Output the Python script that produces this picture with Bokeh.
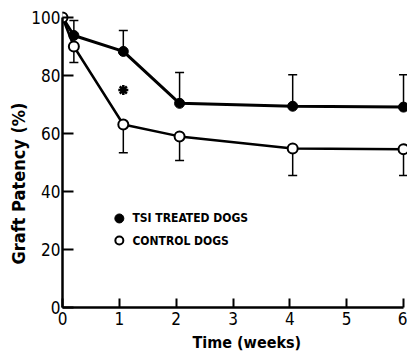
from bokeh.plotting import figure
from bokeh.models import ColumnDataSource, Whisker, TeeHead, Title, FixedTicker, Range1d
from bokeh.core.properties import value
from bokeh.embed import file_html
from bokeh.resources import INLINE

# data
weeks_tsi = [0, 0.2, 1.07, 2.06, 4.05, 6.0]
patency_tsi = [100, 93.8, 88.3, 70.4, 69.4, 69.1]
err_x_tsi = [0.2, 1.07, 2.06, 4.05, 6.0]
err_mid_tsi = [93.8, 88.3, 70.4, 69.4, 69.1]
err_upper_tsi = [99, 95.5, 81, 80.3, 80.3]

weeks_ctl = [0, 0.2, 1.07, 2.06, 4.05, 6.0]
patency_ctl = [100, 90, 63.1, 59, 54.8, 54.6]
err_x_ctl = [0.2, 1.07, 2.06, 4.05, 6.0]
err_mid_ctl = [90, 63.1, 59, 54.8, 54.6]
err_lower_ctl = [84.5, 53.4, 50.7, 45.5, 45.5]

x_ticks = [0, 1, 2, 3, 4, 5, 6]
y_ticks = [0, 20, 40, 60, 80, 100]
star_x = [1.07]
star_y = [75]

FONT = "DejaVu Sans Condensed"

p = figure(width=407, height=356, output_backend="svg", toolbar_location=None,
           x_range=Range1d(0, 6.07), y_range=Range1d(0, 105.86),
           min_border_left=62, min_border_right=0, min_border_top=0, min_border_bottom=49)
p.outline_line_color = None
p.grid.visible = False
p.background_fill_color = "white"

for ax in (p.xaxis[0], p.yaxis[0]):
    ax.axis_line_width = 2.5
    ax.axis_line_color = "black"
    ax.major_tick_line_width = 2
    ax.major_tick_out = 0
    ax.minor_tick_line_color = None
    ax.major_label_text_font = FONT
    ax.major_label_text_font_size = "17px"
    ax.major_label_text_color = "black"

p.xaxis.ticker = FixedTicker(ticks=x_ticks)
p.yaxis.ticker = FixedTicker(ticks=y_ticks)
p.xaxis.bounds = (0, 6)
p.yaxis.bounds = (0, 100)
p.xaxis.major_tick_in = 9
p.yaxis.major_tick_in = 11
p.xaxis.major_label_standoff = 4
p.yaxis.major_label_standoff = 2

# error bars
src_t = ColumnDataSource(dict(x=err_x_tsi, lo=err_mid_tsi, hi=err_upper_tsi))
src_c = ColumnDataSource(dict(x=err_x_ctl, lo=err_lower_ctl, hi=err_mid_ctl))
p.add_layout(Whisker(source=src_t, base="x", lower="lo", upper="hi", line_width=1.5,
                     upper_head=TeeHead(size=9, line_width=1.5), lower_head=None))
p.add_layout(Whisker(source=src_c, base="x", lower="lo", upper="hi", line_width=1.5,
                     lower_head=TeeHead(size=9, line_width=1.5), upper_head=None))

# lines
p.line(weeks_tsi, patency_tsi, line_width=3, color="black")
p.line(weeks_ctl, patency_ctl, line_width=2.5, color="black")
p.scatter(weeks_tsi, patency_tsi, size=10, fill_color="black", line_color="black")
p.scatter(weeks_ctl, patency_ctl, size=10, fill_color="white", line_color="black", line_width=2)

p.scatter(star_x, star_y, marker="asterisk", size=10, line_width=2.5, color="black")

# legend
p.scatter([1.0], [30.7], size=9, fill_color="black", line_color="black")
p.scatter([1.0], [23.1], size=8, fill_color="white", line_color="black", line_width=2)
p.text([1.23], [30.7], text=["TSI TREATED DOGS"], text_font=value(FONT), text_font_size="12px",
       text_font_style="bold", text_baseline="middle", text_color="black")
p.text([1.23], [23.1], text=["CONTROL DOGS"], text_font=value(FONT), text_font_size="12px",
       text_font_style="bold", text_baseline="middle", text_color="black")

# axis titles
p.add_layout(Title(text="Graft Patency (%)", align="left", offset=43, standoff=0,
                   text_font=FONT, text_font_size="18px", text_font_style="bold",
                   text_color="black"), "left")
p.add_layout(Title(text="Time (weeks)", align="left", offset=130, standoff=7,
                   text_font=FONT, text_font_size="16px", text_font_style="bold",
                   text_color="black"), "below")

open("out.html", "w").write(file_html(p, INLINE))
